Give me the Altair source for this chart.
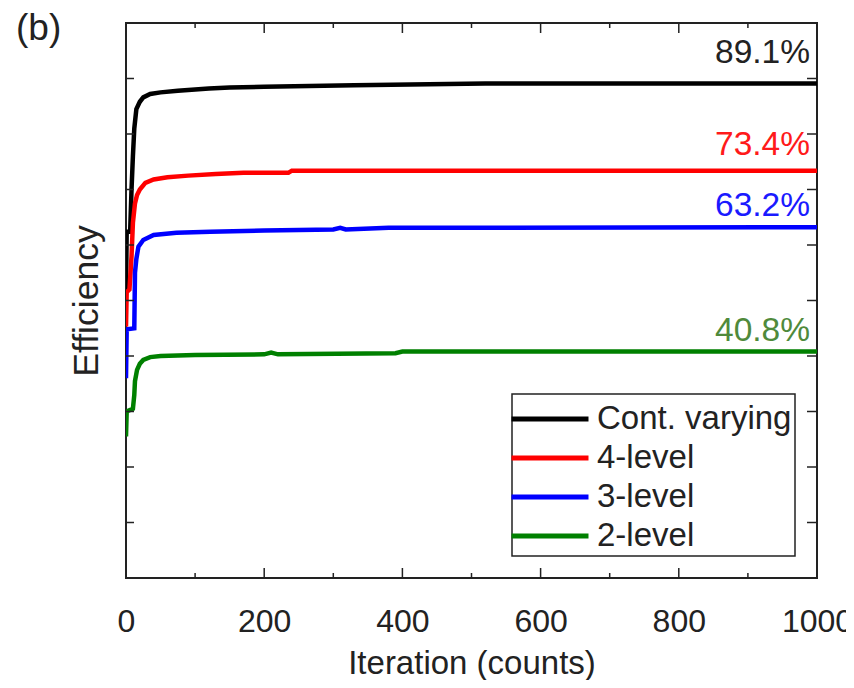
import altair as alt
import pandas as pd

# ---- data ----
series_names = ["Cont. varying", "4-level", "3-level", "2-level"]
series_colors = ["#000000", "#ff0000", "#0000ff", "#008000"]

cont_iter = [0, 1, 6, 8, 10, 12, 15, 20, 25, 35, 50, 75, 120, 150, 200, 330, 520, 1000]
cont_eff = [51.9, 62.4, 62.4, 70.0, 76.0, 81.0, 84.5, 85.8, 86.6, 87.2, 87.5, 87.8, 88.2, 88.4, 88.5, 88.8, 89.1, 89.1]

lvl4_iter = [0, 1, 5, 8, 10, 13, 16, 20, 28, 40, 60, 90, 130, 170, 235, 240, 1000]
lvl4_eff = [45.3, 51.5, 52.0, 58.0, 64.0, 67.5, 69.0, 70.0, 71.2, 71.8, 72.2, 72.5, 72.8, 73.0, 73.0, 73.4, 73.4]

lvl3_iter = [0, 1, 12, 13, 15, 18, 25, 40, 73, 122, 200, 300, 310, 318, 380, 1000]
lvl3_eff = [36.0, 44.8, 45.0, 55.0, 57.5, 59.7, 60.9, 61.8, 62.2, 62.4, 62.6, 62.8, 63.1, 62.8, 63.1, 63.2]

lvl2_iter = [0, 1, 10, 12, 13, 16, 20, 25, 35, 50, 100, 200, 210, 220, 390, 400, 1000]
lvl2_eff = [25.5, 30.0, 30.5, 33.0, 35.5, 37.5, 38.6, 39.3, 39.8, 40.0, 40.2, 40.3, 40.6, 40.3, 40.5, 40.8, 40.8]

final_labels = ["89.1%", "73.4%", "63.2%", "40.8%"]
final_values = [89.1, 73.4, 63.2, 40.8]
label_colors = ["#222222", "#ff1a1a", "#1a1aff", "#4f8a3b"]

x_labels = [0, 200, 400, 600, 800, 1000]
x_major = [200, 400, 600, 800]
x_minor = [100, 300, 500, 700, 900]
y_ticks = [10, 20, 30, 40, 50, 60, 70, 80, 90]

# ---- build table ----
rows = []
for name, xs, ys in zip(series_names,
                        [cont_iter, lvl4_iter, lvl3_iter, lvl2_iter],
                        [cont_eff, lvl4_eff, lvl3_eff, lvl2_eff]):
    for i, (a, b) in enumerate(zip(xs, ys)):
        rows.append({"series": name, "iter": a, "eff": b, "order": i})
df = pd.DataFrame(rows)

W, H = 691, 555
FONT = "Liberation Sans"
TXT = "#222222"

xscale = alt.Scale(domain=[0, 1000], nice=False, zero=False)
yscale = alt.Scale(domain=[0, 100], nice=False, zero=False)

lines = alt.Chart(df).mark_line(strokeWidth=4.5, clip=True).encode(
    x=alt.X("iter:Q", scale=xscale,
            axis=alt.Axis(values=x_labels, format="d", title="Iteration (counts)",
                          ticks=False, domain=False, grid=False, labelFontSize=32,
                          labelPadding=28, titleFontSize=33, titlePadding=10,
                          labelFont=FONT, titleFont=FONT, labelColor=TXT, titleColor=TXT,
                          titleFontWeight="normal", labelFlush=False)),
    y=alt.Y("eff:Q", scale=yscale,
            axis=alt.Axis(labels=False, ticks=False, domain=False, grid=False,
                          title="Efficiency", titleFontSize=35.5, titlePadding=22,
                          titleFont=FONT, titleColor=TXT, titleFontWeight="normal")),
    color=alt.Color("series:N",
                    scale=alt.Scale(domain=series_names, range=series_colors),
                    legend=alt.Legend(title=None, orient="none", legendX=386, legendY=371,
                                      symbolType="M-2,0H2", symbolSize=1482,
                                      symbolStrokeWidth=5, symbolOffset=13,
                                      labelFontSize=33,
                                      labelFont=FONT, labelColor=TXT, labelOffset=25,
                                      rowPadding=0, padding=3, strokeColor="#222222",
                                      labelLimit=400)),
    order="order:Q",
)

tick_color = "#222222"
bx_major = alt.Chart(pd.DataFrame({"v": x_major})).mark_rule(color=tick_color, strokeWidth=1.5)
bx_minor = alt.Chart(pd.DataFrame({"v": x_minor})).mark_rule(color=tick_color, strokeWidth=1.5)
ty = alt.Chart(pd.DataFrame({"v": y_ticks})).mark_rule(color=tick_color, strokeWidth=1.5)

xenc = alt.X("v:Q", scale=xscale, axis=None)
yenc = alt.Y("v:Q", scale=yscale, axis=None)

ticks = [
    bx_major.encode(x=xenc, y=alt.value(H), y2=alt.value(H - 10)),
    bx_major.encode(x=xenc, y=alt.value(0), y2=alt.value(10)),
    bx_minor.encode(x=xenc, y=alt.value(H), y2=alt.value(H - 5)),
    bx_minor.encode(x=xenc, y=alt.value(0), y2=alt.value(5)),
    ty.encode(y=yenc, x=alt.value(0), x2=alt.value(8)),
    ty.encode(y=yenc, x=alt.value(W), x2=alt.value(W - 10)),
]

dys = [-20, -15.5, -11, -11]
labels = []
for t, v, c, dy in zip(final_labels, final_values, label_colors, dys):
    labels.append(
        alt.Chart(pd.DataFrame({"x": [1000], "y": [v], "t": [t]})).mark_text(
            align="right", baseline="alphabetic", dx=-7, dy=dy, fontSize=33.5,
            font=FONT, color=c
        ).encode(x=alt.X("x:Q", scale=xscale, axis=None),
                 y=alt.Y("y:Q", scale=yscale, axis=None), text="t:N")
    )

chart = alt.layer(lines, *ticks, *labels).resolve_axis(
    x="independent", y="independent"
).properties(
    width=W, height=H,
    autosize=alt.AutoSizeParams(type="none"),
    padding={"left": 118, "top": 15, "right": 29, "bottom": 102},
    title=alt.TitleParams("(b)", anchor="start", frame="group", dx=-110, dy=30,
                          fontSize=37, font=FONT, color=TXT, fontWeight="normal"),
).configure_view(stroke="#222222", strokeWidth=2).configure_legend(strokeWidth=1.5)

chart.save("out.html", embed_options={"renderer": "svg", "actions": False})
